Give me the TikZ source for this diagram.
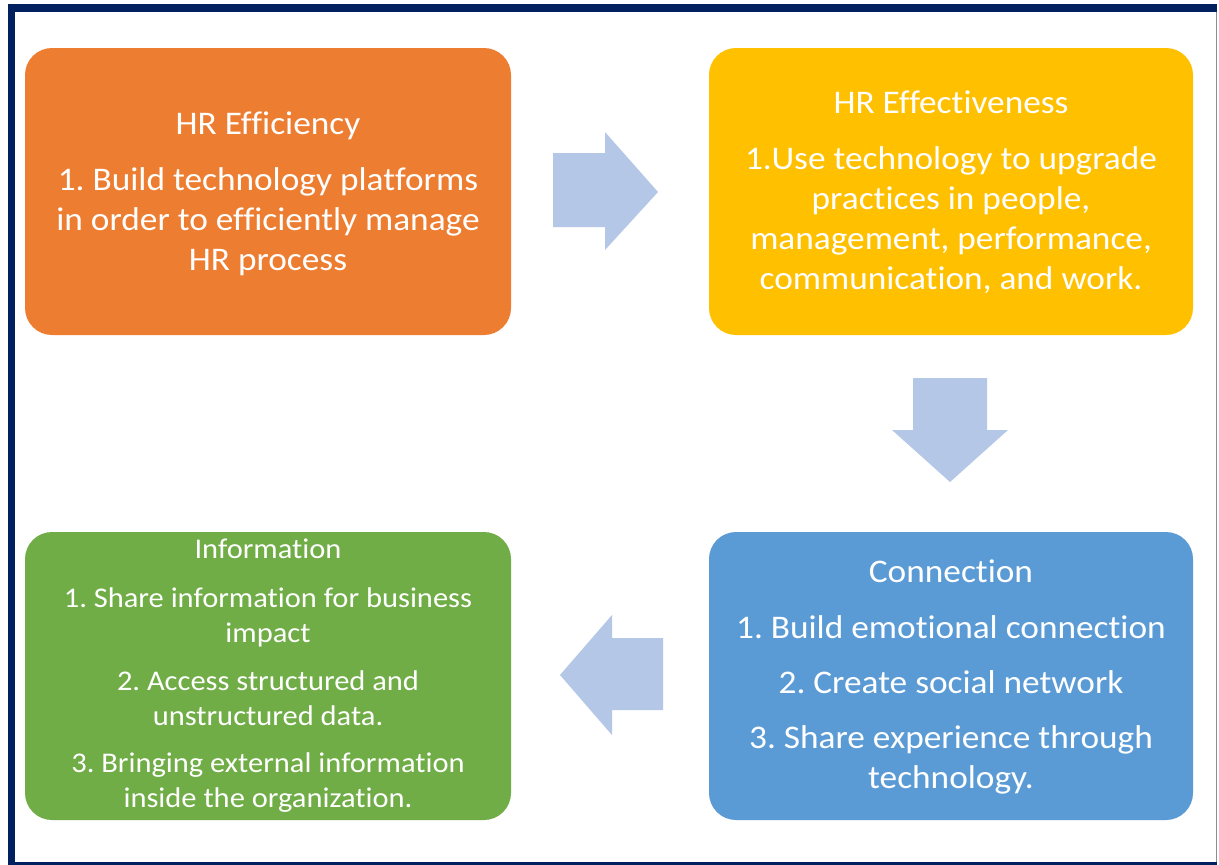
\documentclass[tikz,border=0pt]{standalone}
\usepackage{fontspec}
\setmainfont[FakeStretch=1.07, Ligatures=NoCommon]{Carlito}
\frenchspacing
\definecolor{navy}{HTML}{002060}
\definecolor{frameGray}{HTML}{8C8C8C}
\definecolor{boxOrange}{HTML}{ED7D31}
\definecolor{boxYellow}{HTML}{FFC000}
\definecolor{boxGreen}{HTML}{70AD47}
\definecolor{boxBlue}{HTML}{5B9BD5}
\definecolor{flowArrow}{HTML}{B4C7E7}
\begin{document}
\begin{tikzpicture}[x=1pt,y=-1pt,
  panel/.style={rounded corners=27pt, inner sep=0pt},
  paneltext/.style={text=white, align=center, inner sep=0pt},
  bigtext/.style={paneltext, font=\fontsize{33}{40}\selectfont},
  smalltext/.style={paneltext, font=\fontsize{28.5}{35}\selectfont},
  flow/.style={fill=flowArrow}]
% page and frame
\useasboundingbox (0,0) rectangle (1219,865);
\fill[white] (0,0) rectangle (1219,865);
\fill[navy] (8,4) rectangle (1217,865);
\fill[white] (15,12) rectangle (1216,862);
\draw[frameGray, line width=1.5pt] (1216.5,12) -- (1216.5,862);

% coloured panels
\fill[panel, boxOrange] (25,48) rectangle (511,335);
\fill[panel, boxYellow] (709,48) rectangle (1193,335);
\fill[panel, boxGreen]  (25,532) rectangle (511,820);
\fill[panel, boxBlue]   (709,532) rectangle (1193,820);

\node[bigtext] (eff) at (268,193.5) {HR Efficiency\\[16pt]
  1. Build technology platforms\\
  in order to efficiently manage\\
  HR process};

\node[bigtext] (effv) at (951,192) {HR Effectiveness\\[16pt]
  1.Use technology to upgrade\\
  practices in people,\\
  management, performance,\\
  communication, and work.};

\node[bigtext] (conn) at (951,677) {Connection\\[16pt]
  1. Build emotional connection\\[15pt]
  2. Create social network\\[15pt]
  3. Share experience through\\
  technology.};

\node[smalltext] (info) at (268,676) {Information\\[14pt]
  1. Share information for business\\
  impact\\[13pt]
  2. Access structured and\\
  unstructured data.\\[12pt]
  3. Bringing external information\\
  inside the organization.};

% block arrows between the panels
\fill[flow] (553,153) -- (605,153) -- (605,132) -- (658,192) -- (605,250) -- (605,227) -- (553,227) -- cycle;
\fill[flow] (913,378) -- (987,378) -- (987,430) -- (1008,430) -- (950,482) -- (892,430) -- (913,430) -- cycle;
\fill[flow] (663,638) -- (612,638) -- (612,615) -- (560,675) -- (612,735) -- (612,710) -- (663,710) -- cycle;
\end{tikzpicture}
\end{document}
